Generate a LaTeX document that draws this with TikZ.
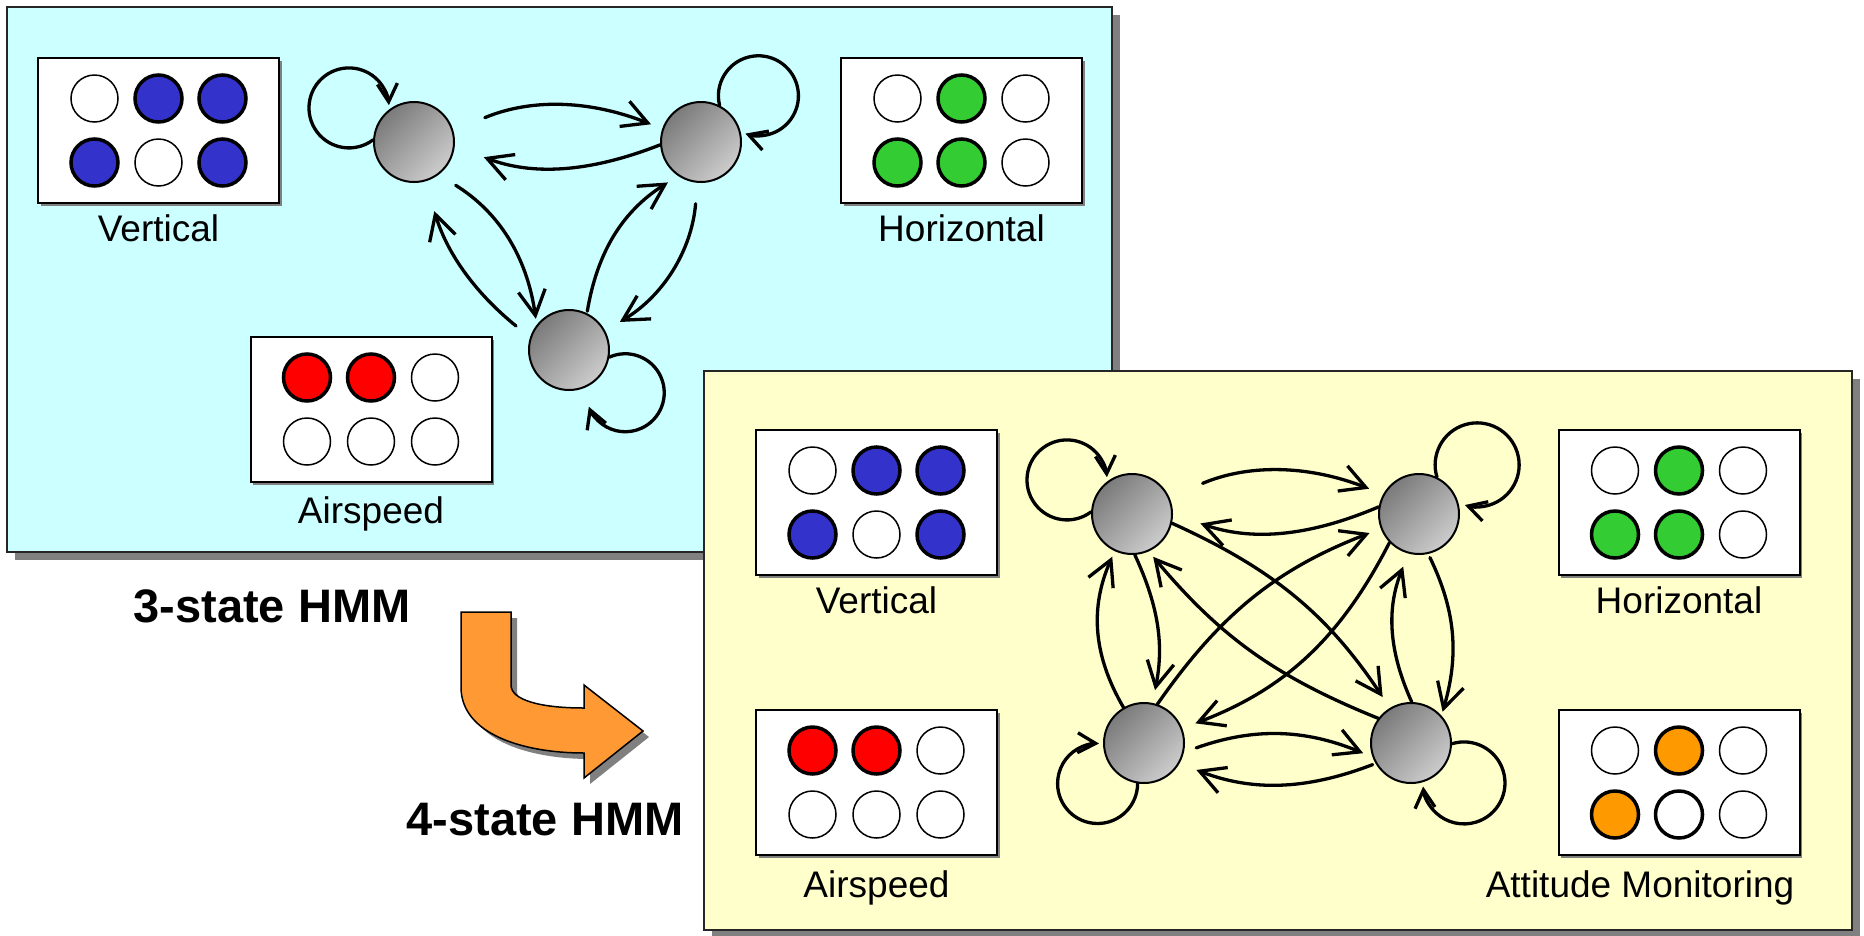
\documentclass[tikz,border=0pt]{standalone}
\usepackage{fontspec}
\setmainfont{Liberation Sans}
\usetikzlibrary{arrows.meta,calc,shadows}
\definecolor{panelcyan}{HTML}{CCFFFF}
\definecolor{panelyellow}{HTML}{FFFFCC}
\definecolor{obsblue}{HTML}{3333CC}
\definecolor{obsgreen}{HTML}{33CC33}
\definecolor{obsred}{HTML}{FF0000}
\definecolor{obsorange}{HTML}{FF9900}
\definecolor{bigorange}{HTML}{FF9933}
\definecolor{shadowgray}{HTML}{808080}

\newcommand{\obsgrid}[9]{%
  \node[obsbox] (#1) at (#2,#3) {};
  \node[#4] (#1-a) at ([shift={(-64,32)}]#1.center) {};
  \node[#5] (#1-b) at ([shift={(0,32)}]#1.center) {};
  \node[#6] (#1-c) at ([shift={(64,32)}]#1.center) {};
  \node[#7] (#1-d) at ([shift={(-64,-32)}]#1.center) {};
  \node[#8] (#1-e) at ([shift={(0,-32)}]#1.center) {};
  \node[#9] (#1-f) at ([shift={(64,-32)}]#1.center) {};
}
\newcommand{\bigarrowpath}{(461,-612) -- (511,-612) -- (511,-685) .. controls (511,-700) and (540,-708) .. (584,-708) -- (584,-685) -- (643,-731) -- (584,-778) -- (584,-753) .. controls (525,-753) and (461,-735) .. (461,-687) -- cycle}

\tikzset{
  panel/.style={draw=black!85, line width=2pt, inner sep=0pt,
    drop shadow={shadow xshift=8pt, shadow yshift=-8pt, fill=shadowgray, opacity=1}},
  obsbox/.style={draw=black, fill=white, line width=2pt, inner sep=0pt,
    minimum width=241pt, minimum height=145pt,
    drop shadow={shadow xshift=2.5pt, shadow yshift=-2.5pt, fill=shadowgray, opacity=1}},
  dot/.style={circle, draw=black, inner sep=0pt, minimum size=47pt},
  dotW/.style={dot, fill=white, line width=1.5pt},
  dotWT/.style={dot, fill=white, line width=3.5pt},
  dotB/.style={dot, fill=obsblue, line width=3.5pt},
  dotG/.style={dot, fill=obsgreen, line width=3.5pt},
  dotR/.style={dot, fill=obsred, line width=3.5pt},
  dotO/.style={dot, fill=obsorange, line width=3.5pt},
  lbl/.style={anchor=base, inner sep=0pt, font=\fontsize{37}{40}\selectfont},
  ttl/.style={anchor=base, inner sep=0pt, font=\fontsize{47}{52}\selectfont\bfseries},
  state/.style={circle, minimum size=80pt, inner sep=0pt, draw=black, line width=2pt,
    top color=black!52, bottom color=black!20, shading angle=45},
  arr/.style={line width=3.3pt, line cap=round, -{Straight Barb[length=25pt,width=27pt]}},
  looparr/.style={line width=3.3pt, line cap=round, -{Straight Barb[length=18pt,width=20pt]}},
}

\begin{document}
\begin{tikzpicture}[x=1pt, y=1pt]
\useasboundingbox (0,0) rectangle (1864,-935);
\fill[white] (0,0) rectangle (1864,-935);

% ---------- 3-state panel ----------
\node[panel, fill=panelcyan, minimum width=1105pt, minimum height=545pt] (p3) at (559.5,-279.5) {};

\obsgrid{v3}{158.5}{-130.5}{dotW}{dotB}{dotB}{dotB}{dotW}{dotB}
\obsgrid{h3}{961.5}{-130.5}{dotW}{dotG}{dotW}{dotG}{dotG}{dotW}
\obsgrid{a3}{371}{-409.5}{dotR}{dotR}{dotW}{dotW}{dotW}{dotW}
\node[lbl] (v3l) at ([yshift=-37pt]v3.south) {Vertical};
\node[lbl] (h3l) at ([yshift=-37pt]h3.south) {Horizontal};
\node[lbl] (a3l) at ([yshift=-40pt]a3.south) {Airspeed};

\node[state] (S1) at (414,-142) {};
\node[state] (S2) at (701,-142) {};
\node[state] (S3) at (569,-350) {};

\draw[arr, shorten <=34pt, shorten >=12pt] (S1.16) to[bend left=22] (S2.161);
\draw[arr, shorten >=31pt] (S2.184) to[bend left=21] (S1.-6);
\draw[arr, shorten <=20pt, shorten >=6pt] (S1.-53) to[bend left=25] (S3.142);
\draw[arr, shorten <=18pt, shorten >=31pt] (S3.162) to[bend left=17] (S1.-74);
\draw[arr, shorten <=2pt, shorten >=12pt] (S3.64) to[bend left=24] (S2.-124);
\draw[arr, shorten <=21pt, shorten >=17pt] (S2.-95) to[bend left=27] (S3.28);
\draw[looparr] (S1.177) arc[start angle=-53, end angle=-356, radius=40];
\draw[looparr] (S2.63) arc[start angle=194, end angle=-109, radius=40];
\draw[looparr] (S3.-10) arc[start angle=114, end angle=-159, radius=39];

% ---------- 4-state panel ----------
\node[panel, fill=panelyellow, minimum width=1148pt, minimum height=559pt] (p4) at (1278,-650.5) {};

\obsgrid{v4}{876.5}{-502.5}{dotW}{dotB}{dotB}{dotB}{dotW}{dotB}
\obsgrid{h4}{1679}{-502.5}{dotW}{dotG}{dotW}{dotG}{dotG}{dotW}
\obsgrid{a4}{876.5}{-782.5}{dotR}{dotR}{dotW}{dotW}{dotW}{dotW}
\obsgrid{m4}{1679}{-782.5}{dotW}{dotO}{dotW}{dotO}{dotWT}{dotW}
\node[lbl] (v4l) at ([yshift=-37pt]v4.south) {Vertical};
\node[lbl] (h4l) at ([yshift=-37pt]h4.south) {Horizontal};
\node[lbl] (a4l) at ([yshift=-41pt]a4.south) {Airspeed};
\node[lbl] (m4l) at ([yshift=-41pt, xshift=-39pt]m4.south) {Attitude Monitoring};

\node[state] (A) at (1132,-514) {};
\node[state] (B) at (1419,-514) {};
\node[state] (C) at (1144,-743) {};
\node[state] (D) at (1411,-743) {};

\draw[arr, shorten <=36pt, shorten >=15pt] (A.24) to[bend left=22] (B.151);
\draw[arr, shorten >=29pt] (B.170) to[bend left=21] (A.0);
\draw[arr, shorten >=13pt] (A.-86) to[bend left=18] (C.78);
\draw[arr, shorten >=6pt] (C.120) to[bend left=27] (A.-115);
\draw[arr, shorten <=4pt, shorten >=4pt] (B.-77) to[bend left=21] (D.42);
\draw[arr, shorten >=14pt] (D.89) to[bend left=23] (B.-105);
\draw[arr, shorten >=13pt] (A.-13) to[bend left=16] (D.121);
\draw[arr, shorten >=7pt] (D.143) to[bend left=14] (A.-66);
\draw[arr, shorten >=12pt] (C.71) to[bend left=17] (B.-159);
\draw[arr, shorten >=14pt] (B.-136) to[bend left=21] (C.21);
\draw[arr, shorten <=13pt, shorten >=10pt] (C.-13) to[bend left=21] (D.-160);
\draw[arr, shorten <=3pt, shorten >=18pt] (D.-150) to[bend left=21] (C.-30);
\draw[looparr] (A.177) arc[start angle=-53, end angle=-356, radius=40];
\draw[looparr] (B.64) arc[start angle=197, end angle=-107, radius=42];
\draw[looparr] (C.-99) arc[start angle=0, end angle=-272, radius=40];
\draw[looparr] (D.-1) arc[start angle=107, end angle=-175, radius=41];

% ---------- transition arrow and titles ----------
\fill[shadowgray, xshift=6pt, yshift=-6pt] \bigarrowpath;
\draw[fill=bigorange, line width=1.5pt, line join=miter] \bigarrowpath;

\node[ttl] (t3) at (272,-622) {3-state HMM};
\node[ttl] (t4) at (545,-835) {4-state HMM};
\end{tikzpicture}
\end{document}
